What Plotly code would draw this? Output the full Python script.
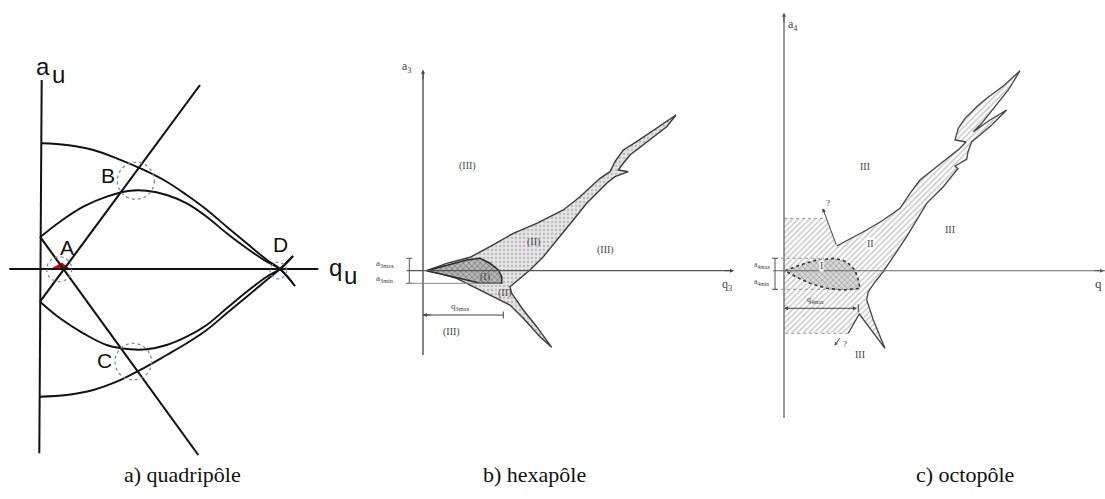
import plotly.graph_objects as go

W, H = 1105, 499

# ---------------- panel a : quadrupole stability diagram (local units, origin at q=0,a=0)
qa_outer_up_q = [1.7, 26.7, 53.3, 76.7, 103.3, 126.7, 146.7, 166.7, 186.7, 206.7, 226.7, 240, 255]
qa_outer_up_a = [125.7, 124, 119, 110.7, 99.3, 87.3, 74, 59.3, 42.3, 25.7, 9.3, 0, -17]
qa_inner_up_q = [0.7, 20, 43.3, 66.7, 90, 106.7, 126.7, 146.7, 166.7, 186.7, 206.7, 226.7, 240, 255]
qa_inner_up_a = [32.3, 47.3, 62.3, 72.3, 78.3, 78.3, 74, 65.7, 52.3, 35.7, 20.7, 7.3, 0, -17]
qa_outer_lo_q = [-0.7, 26.7, 53.3, 76.7, 103.3, 126.7, 146.7, 166.7, 186.7, 206.7, 226.7, 240, 253]
qa_outer_lo_a = [-127.7, -126, -121, -112.7, -99.3, -86, -74.3, -61, -44.3, -27.7, -11, 0, 13]
qa_inner_lo_q = [0, 20, 43.3, 66.7, 90, 106.7, 126.7, 146.7, 166.7, 186.7, 206.7, 226.7, 240, 253]
qa_inner_lo_a = [-32.7, -49.3, -64.3, -76, -80.3, -80.3, -76, -67.7, -56, -39.3, -22.7, -7.7, 0, 13]
qa_line_up_q, qa_line_up_a = [0, 160], [-32.7, 184]
qa_line_dn_q, qa_line_dn_a = [0, 158.3], [32.3, -186]
qa_axis_v_q, qa_axis_v_a = [1.7, -0.7], [189, -184.3]
qa_axis_h_q, qa_axis_h_a = [-30.7, 278.3], [0, 0]
qa_red_q, qa_red_a = [8.5, 22, 31.5], [-1, 6.5, -1]
qa_circ_q = [19.2, 95.8, 93.3, 238.3]
qa_circ_a = [-0.2, 88.2, -92.7, -1.5]
qa_circ_r = [12.5, 18.5, 18.3, 8.3]
qa_pt_labels = ["A", "B", "C", "D"]
qa_pt_q = [26.7, 68.3, 64.2, 240]
qa_pt_a = [21.5, 94, -91.5, 24.8]

# ---------------- panel b : hexapole
hex_fish_q = [3.7, 23.7, 47, 67, 90.3, 113.7, 140.3, 157, 177, 187, 192, 200.3, 213.7, 233.7, 253,
              243.7, 230.3, 217, 207, 200.3, 195.3, 205.3, 192, 183.7, 173.7, 163.7, 150.3, 137, 120.3,
              107, 93.7, 87, 88.7, 100.3, 113.7, 128.7, 117, 100.3, 87, 70.3, 53.7, 33.7, 17, 3.7]
hex_fish_a = [0, 7.4, 13.4, 24, 37.4, 47.4, 60.7, 74, 92.4, 99, 109, 120.7, 129, 142.4, 155.7,
              144, 134, 124, 115.7, 107.4, 100.7, 99, 94, 87.4, 77.4, 67.4, 50.7, 34, 14,
              0.7, -11, -16, -22.6, -39.3, -56, -76.6, -66, -47.6, -34.3, -26, -17.6, -7.6, -2.6, 0]
hex_I_q = [3.7, 23.7, 43.7, 57, 67, 75.3, 78.7, 78.7, 57, 43.7, 23.7, 3.7]
hex_I_a = [0, 5.7, 10.7, 12.4, 7.4, 0.7, -6, -12.6, -12.6, -9.3, -4.3, 0]
hex_axis_v_q, hex_axis_v_a = [0, 0], [199, -84.3]
hex_axis_h_q, hex_axis_h_a = [-16.3, 308.7], [0, 0]
hex_labels = ["(III)", "(II)", "(III)", "(I)", "(II)", "(III)"]
hex_lab_q = [44.7, 110, 182, 62, 81, 28.3]
hex_lab_a = [104.7, 29, 20.7, -6, -22.6, -61]

# ---------------- panel c : octopole
oct_rect_q_top, oct_rect_a_top = [0, 42], [52.4, 52.4]
oct_rect_q_bot, oct_rect_a_bot = [64.3, 0], [-62.6, -62.6]
oct_fish_q = [52.7, 66, 82.7, 99.3, 116, 126, 136, 152.7, 166, 176, 182, 171,
              174.3, 181, 192.7, 202.7, 219.3, 236,
              224.3, 211, 197.7, 189.3,
              206, 222.7, 207.7, 196, 187.7,
              184, 182.7, 171, 174, 172.7,
              159.3, 142.7, 132.7, 122.7, 109.3, 99.3, 91, 84.3, 82.7, 89.3, 101, 88, 75.3, 64.3]
oct_fish_a = [24.7, 31.7, 40.7, 50.7, 62.4, 77.4, 90.7, 104, 114, 122.4, 128.7, 130.7,
              142.4, 152.4, 164, 172.4, 184.7, 200,
              180.7, 164, 147.4, 139,
              150.7, 160.7, 145.7, 135.7, 129,
              118.7, 111.4, 104.7, 102, 100.7,
              84, 67.4, 50.7, 34, 14, -1, -11.3, -21, -29.3, -49.3, -77.6, -60.3, -43.3, -62.6]
oct_I_q = [1, 16, 32.7, 51, 62.7, 71, 74.3, 76, 59.3, 42.7, 26, 12.7, 1]
oct_I_a = [0, 5.7, 10.7, 12.4, 9, 0.7, -9.3, -17.6, -19.3, -17.6, -12.6, -6.6, 0]
oct_axis_v_q, oct_axis_v_a = [0, 0], [255.7, -147.3]
oct_axis_h_q, oct_axis_h_a = [-11, 321], [0, 0]
oct_labels = ["III", "III", "II", "I", "III"]
oct_lab_q = [81, 166, 86, 37.7, 76]
oct_lab_a = [104.7, 41.7, 27.4, 5.7, -83.3]

captions = ["a) quadripôle", "b) hexapôle", "c) octopôle"]
caption_x = [182, 534, 965]

# ---------------- figure
P = {
    'a': dict(xa='x', ya='y', dom=[0, 370 / W], xr=[-40, 330], yr=[-230, 269]),
    'b': dict(xa='x2', ya='y2', dom=[370 / W, 740 / W], xr=[-53, 317], yr=[-228.3, 270.7]),
    'c': dict(xa='x3', ya='y3', dom=[740 / W, 1], xr=[-44, 321], yr=[-228.3, 270.7]),
}
fig = go.Figure()
ann = []
shapes = []


def add_line(p, q, a, color='black', width=1.5, dash='solid', shape='linear'):
    fig.add_trace(go.Scatter(x=q, y=a, xaxis=P[p]['xa'], yaxis=P[p]['ya'], mode='lines',
                             line=dict(color=color, width=width, dash=dash, shape=shape),
                             hoverinfo='skip', showlegend=False))


def add_fill(p, q, a, pattern=None, color='white', line_color=None, line_width=0, dash='solid'):
    fig.add_trace(go.Scatter(x=q, y=a, xaxis=P[p]['xa'], yaxis=P[p]['ya'], mode='lines',
                             fill='toself', fillcolor=color, fillpattern=pattern,
                             line=dict(color=line_color or color, width=line_width, dash=dash),
                             hoverinfo='skip', showlegend=False))


def add_text(p, q, a, s, size=10, family='Liberation Serif', color='#444', xanchor='center', bg=None):
    d = dict(x=q, y=a, xref=P[p]['xa'], yref=P[p]['ya'], text=s, showarrow=False,
             font=dict(size=size, family=family, color=color), xanchor=xanchor, yanchor='middle')
    if bg:
        d['bgcolor'] = bg
        d['borderpad'] = 0
    ann.append(d)


def add_arrow(p, qh, ah, qt, at, color='#444', width=1, head=2, size=1, side='end'):
    ann.append(dict(x=qh, y=ah, ax=qt, ay=at, xref=P[p]['xa'], yref=P[p]['ya'],
                    axref=P[p]['xa'], ayref=P[p]['ya'], text='', showarrow=True,
                    arrowhead=head, arrowsize=size, arrowwidth=width, arrowcolor=color,
                    arrowside=side, startarrowhead=head, startarrowsize=size))


# ---- panel a
add_fill('a', qa_red_q, qa_red_a, color='#e00000')
for q, a in [(qa_outer_up_q, qa_outer_up_a), (qa_inner_up_q, qa_inner_up_a),
             (qa_outer_lo_q, qa_outer_lo_a), (qa_inner_lo_q, qa_inner_lo_a)]:
    add_line('a', q, a, color='#111', width=1.9, shape='spline')
add_line('a', qa_line_up_q, qa_line_up_a, color='#111', width=2.1)
add_line('a', qa_line_dn_q, qa_line_dn_a, color='#111', width=2.1)
add_line('a', qa_axis_v_q, qa_axis_v_a, color='#111', width=2)
add_line('a', qa_axis_h_q, qa_axis_h_a, color='#111', width=1.8)
for cq, ca, r in zip(qa_circ_q, qa_circ_a, qa_circ_r):
    shapes.append(dict(type='circle', xref='x', yref='y', x0=cq - r, x1=cq + r, y0=ca - r, y1=ca + r,
                       line=dict(color='#7f8e9c', width=1.3, dash='dot')))
for s, q, a in zip(qa_pt_labels, qa_pt_q, qa_pt_a):
    add_text('a', q, a, s, size=21, family='Liberation Sans', color='#111')
add_text('a', 2.5, 203, 'a', size=24, family='Liberation Sans', color='#111')
add_text('a', 18.3, 195, 'u', size=24, family='Liberation Sans', color='#111')
add_text('a', 295.8, 2, 'q', size=24, family='Liberation Sans', color='#111')
add_text('a', 310.8, -6, 'u', size=24, family='Liberation Sans', color='#111')

# ---- panel b
add_fill('b', hex_fish_q, hex_fish_a,
         pattern=dict(shape='.', fgcolor='#8c8c8c', bgcolor='#e4e4e4', size=4, solidity=0.25),
         color='#e4e4e4', line_color='#3a3a3a', line_width=1.4)
add_fill('b', hex_I_q, hex_I_a,
         pattern=dict(shape='x', fgcolor='#3c3c3c', bgcolor='#b8b8b8', size=4, solidity=0.35),
         color='#b8b8b8', line_color='#2a2a2a', line_width=1.6)
add_line('b', hex_axis_v_q, hex_axis_v_a, color='#444', width=1.3)
add_line('b', hex_axis_h_q, hex_axis_h_a, color='#555', width=1.2)
add_arrow('b', 0, 201, 0, 190, head=2, size=0.8)
add_arrow('b', 311, 0, 300, 0, head=2, size=0.8)
add_line('b', [-13.7, -13.7], [12.4, -12.6], color='#555', width=1)
add_line('b', [-16.7, -10.7], [12.4, 12.4], color='#555', width=1)
add_line('b', [-16.7, -10.7], [-12.6, -12.6], color='#555', width=1)
add_line('b', [-14.7, 78.7], [-12.6, -12.6], color='#8a8a8a', width=1)
add_line('b', [0, 80.3], [-44.3, -44.3], color='#444', width=1)
add_line('b', [80.3, 80.3], [-40.8, -47.8], color='#444', width=1)
add_arrow('b', 0, -44.3, 10, -44.3, head=2, size=0.8)
for s, q, a in zip(hex_labels, hex_lab_q, hex_lab_a):
    add_text('b', q, a, s, size=10)
add_text('b', -16.3, 203.7, 'a<sub>3</sub>', size=12)
add_text('b', 303.7, -14.3, 'q<sub>3</sub>', size=12)
add_text('b', -38, 7.4, 'a<sub>3max</sub>', size=9)
add_text('b', -38, -7.6, 'a<sub>3min</sub>', size=9)
add_text('b', 37, -35.8, 'q<sub>3max</sub>', size=9)

# ---- panel c
oct_poly_q = oct_rect_q_top + oct_fish_q + oct_rect_q_bot[1:]
oct_poly_a = oct_rect_a_top + oct_fish_a + oct_rect_a_bot[1:]
add_fill('c', oct_poly_q, oct_poly_a,
         pattern=dict(shape='/', fgcolor='#8a8a8a', bgcolor='white', size=4, solidity=0.35),
         color='white', line_width=0)
add_line('c', oct_fish_q, oct_fish_a, color='#444', width=1.3)
add_line('c', oct_rect_q_top, oct_rect_a_top, color='#999', width=1, dash='dot')
add_line('c', oct_rect_q_bot, oct_rect_a_bot, color='#999', width=1, dash='dot')
add_fill('c', oct_I_q, oct_I_a,
         pattern=dict(shape='x', fgcolor='#555', bgcolor='#d8d8d8', size=4, solidity=0.3),
         color='#d8d8d8', line_color='#333', line_width=1.6, dash='dot')
add_line('c', oct_axis_v_q, oct_axis_v_a, color='#555', width=1.2)
add_line('c', oct_axis_h_q, oct_axis_h_a, color='#666', width=1.1)
add_arrow('c', 0, 258, 0, 247, color='#555', head=2, size=0.8)
add_arrow('c', 320, 0, 309, 0, color='#555', head=2, size=0.8)
add_line('c', [-9, 40], [12.4, 12.4], color='#999', width=1, dash='dot')
add_line('c', [-9, 76], [-18.6, -18.6], color='#999', width=1, dash='dot')
add_line('c', [-9, -9], [12.4, -18.6], color='#555', width=1)
add_line('c', [-12, -6], [12.4, 12.4], color='#555', width=1)
add_line('c', [-12, -6], [-18.6, -18.6], color='#555', width=1)
add_arrow('c', 0, -37.6, 74.3, -37.6, color='#444', head=2, size=0.8, side='end+start')
add_line('c', [74.3, 74.3], [-33.6, -41.6], color='#444', width=1)
add_arrow('c', 38.7, 62.4, 52.7, 24.7, color='#444', head=2, size=0.8)
add_arrow('c', 50.5, -75, 57, -66, color='#555', head=2, size=0.7)
add_text('c', 43.5, 67.4, '?', size=9)
add_text('c', 61, -73, '?', size=9)
for s, q, a in zip(oct_labels, oct_lab_q, oct_lab_a):
    add_text('c', q, a, s, size=10, bg='white' if s in ('II', 'I') else None)
add_text('c', 2, 246, 'a<sub>4</sub>', size=12, xanchor='left')
add_text('c', 320, -12.3, 'q', size=13, xanchor='right')
add_text('c', -22.3, 5.7, 'a<sub>4max</sub>', size=8)
add_text('c', -22.3, -11, 'a<sub>4min</sub>', size=8)
add_text('c', 31, -29.3, 'q<sub>4max</sub>', size=8)

# ---- captions
for s, x in zip(captions, caption_x):
    ann.append(dict(x=x / W, y=1 - 474 / H, xref='paper', yref='paper', text=s, showarrow=False,
                    font=dict(size=22, family='Liberation Serif', color='#111'),
                    xanchor='center', yanchor='middle'))

layout = dict(width=W, height=H, margin=dict(l=0, r=0, t=0, b=0),
              paper_bgcolor='white', plot_bgcolor='white', showlegend=False,
              annotations=ann, shapes=shapes)
for k, p in P.items():
    xk = 'xaxis' if p['xa'] == 'x' else 'xaxis' + p['xa'][1:]
    yk = 'yaxis' if p['ya'] == 'y' else 'yaxis' + p['ya'][1:]
    layout[xk] = dict(domain=p['dom'], range=p['xr'], visible=False, fixedrange=True, anchor=p['ya'])
    layout[yk] = dict(domain=[0, 1], range=p['yr'], visible=False, fixedrange=True, anchor=p['xa'])
fig.update_layout(**layout)
fig.write_html("out.html", config={'displayModeBar': False},
               post_script="document.body.style.margin='0';document.body.style.overflow='hidden';")
